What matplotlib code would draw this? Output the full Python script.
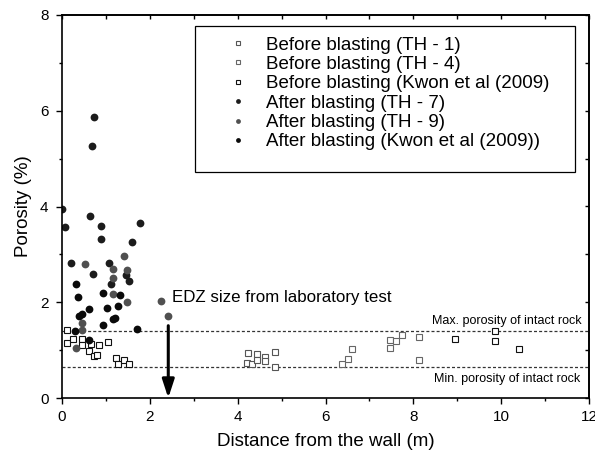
import matplotlib
matplotlib.use("Agg")
import matplotlib.pyplot as plt
from matplotlib.patches import Rectangle

plt.rcParams['font.family'] = ['Liberation Sans', 'DejaVu Sans']

# ---- data ----
before_th1_x = [4.24, 4.22, 4.33, 4.43, 4.43, 4.63, 4.63, 4.86, 4.86]
before_th1_y = [0.94, 0.73, 0.71, 0.91, 0.79, 0.86, 0.78, 0.97, 0.65]

before_th4_x = [6.38, 6.52, 6.61, 7.47, 7.47, 7.61, 7.74, 8.12, 8.12]
before_th4_y = [0.71, 0.82, 1.03, 1.21, 1.05, 1.19, 1.31, 1.27, 0.80]

before_kwon_x = [0.11, 0.12, 0.26, 0.46, 0.46, 0.62, 0.65, 0.85, 1.05, 0.74, 0.79,
                 1.24, 1.27, 1.42, 1.53, 8.96, 9.85, 9.85, 10.41]
before_kwon_y = [1.42, 1.15, 1.23, 1.23, 1.10, 0.99, 1.13, 1.11, 1.17, 0.88, 0.90,
                 0.83, 0.70, 0.79, 0.70, 1.23, 1.40, 1.20, 1.03]

after_th7_x = [0.72, 0.69, 0.01, 0.63, 0.075, 0.88, 1.78, 0.88, 1.60, 0.20, 1.07,
               0.70, 1.45, 1.53, 1.11]
after_th7_y = [5.86, 5.27, 3.95, 3.81, 3.58, 3.59, 3.66, 3.33, 3.26, 2.81, 2.83,
               2.58, 2.57, 2.45, 2.38]

after_th9_x = [0.52, 1.41, 1.15, 1.49, 1.15, 1.15, 1.49, 0.46, 0.46, 0.31, 2.26, 2.41]
after_th9_y = [2.79, 2.96, 2.69, 2.68, 2.50, 2.18, 2.00, 1.56, 1.42, 1.05, 2.02, 1.71]

after_kwon_x = [0.33, 0.93, 1.31, 0.37, 1.27, 1.03, 0.62, 0.45, 0.39, 1.20, 1.17,
                0.93, 1.71, 0.30, 0.62]
after_kwon_y = [2.38, 2.20, 2.16, 2.11, 1.92, 1.87, 1.86, 1.75, 1.72, 1.67, 1.64,
                1.53, 1.44, 1.40, 1.22]

labels = ["Before blasting (TH - 1)", "Before blasting (TH - 4)",
          "Before blasting (Kwon et al (2009)", "After blasting (TH - 7)",
          "After blasting (TH - 9)", "After blasting (Kwon et al (2009))"]

max_porosity = 1.4
min_porosity = 0.65
edz_x = 2.42
edz_top = 1.51

fig = plt.figure(figsize=(5.95, 4.59), dpi=100)
ax = fig.add_axes([62/595, 1-398/459, 527/595, 383/459])

sq = dict(marker='s', linestyle='none', markersize=4.3, markerfacecolor='white',
          markeredgewidth=0.8)
ci = dict(marker='o', linestyle='none', markersize=5.6, markeredgewidth=0)

ax.axhline(max_porosity, color='#333333', lw=0.9, dashes=(2.4, 1.7), zorder=1)
ax.axhline(min_porosity, color='#333333', lw=0.9, dashes=(2.4, 1.7), zorder=1)

ax.plot(before_th1_x, before_th1_y, markeredgecolor='#555555', label=labels[0], **sq)
ax.plot(before_th4_x, before_th4_y, markeredgecolor='#666666', label=labels[1], **sq)
ax.plot(before_kwon_x, before_kwon_y, markeredgecolor='#111111', label=labels[2], **sq)
ax.plot(after_th7_x, after_th7_y, color='#1c1c1c', label=labels[3], **ci)
ax.plot(after_th9_x, after_th9_y, color='#505050', label=labels[4], **ci)
ax.plot(after_kwon_x, after_kwon_y, color='#0a0a0a', label=labels[5], **ci)

ax.annotate('', xy=(edz_x, 0), xytext=(edz_x, edz_top),
            arrowprops=dict(arrowstyle='-|>,head_length=1.1,head_width=0.36',
                            lw=2.2, color='black', shrinkA=0, shrinkB=0),
            annotation_clip=False, zorder=5)
ax.text(2.5, 2.1, "EDZ size from laboratory test", fontsize=12.2, va='center', ha='left')
ax.text(11.84, 1.61, "Max. porosity of intact rock", fontsize=9, va='center', ha='right')
ax.text(11.80, 0.40, "Min. porosity of intact rock", fontsize=9, va='center', ha='right')

ax.set_xlim(0, 12)
ax.set_ylim(0, 8)
ax.set_xticks([0, 2, 4, 6, 8, 10, 12])
ax.set_yticks([0, 2, 4, 6, 8])
ax.set_xticks([1, 3, 5, 7, 9, 11], minor=True)
ax.set_yticks([1, 3, 5, 7], minor=True)
ax.tick_params(which='major', direction='out', length=4.3, width=1.0, labelsize=11)
ax.tick_params(which='minor', direction='out', length=2.4, width=1.0)
ax.tick_params(axis='x', which='major', pad=4)
ax.tick_params(axis='y', which='major', pad=5.5)

top = ax.secondary_xaxis('top')
top.set_xticks([0, 1, 2, 3, 4, 5, 6, 7, 8, 9, 10, 11, 12])
top.tick_params(direction='in', length=2.6, width=1.0, labeltop=False)
top.spines['top'].set_linewidth(1.2)
right = ax.secondary_yaxis('right')
right.set_yticks([0, 1, 2, 3, 4, 5, 6, 7, 8])
right.tick_params(direction='in', length=2.6, width=1.0, labelright=False)
right.spines['right'].set_linewidth(1.2)

for s in ax.spines.values():
    s.set_linewidth(1.2)

ax.set_xlabel("Distance from the wall (m)", fontsize=13.5, labelpad=7)
ax.set_ylabel("Porosity (%)", fontsize=13.5, labelpad=6)

ax.add_patch(Rectangle((0.2524, 0.5901), 0.9734-0.2524, 0.9713-0.5901,
                       transform=ax.transAxes, facecolor='white', edgecolor='black',
                       lw=0.9, zorder=6))
leg = ax.legend(loc='upper left', bbox_to_anchor=((219-62)/527, (398-36.5)/383),
                frameon=False, fontsize=13.5, markerscale=0.62, handlelength=2,
                handletextpad=0.5, labelspacing=0.12, borderpad=0, borderaxespad=0)
leg.set_zorder(7)

fig.savefig("out.png", dpi=100)
